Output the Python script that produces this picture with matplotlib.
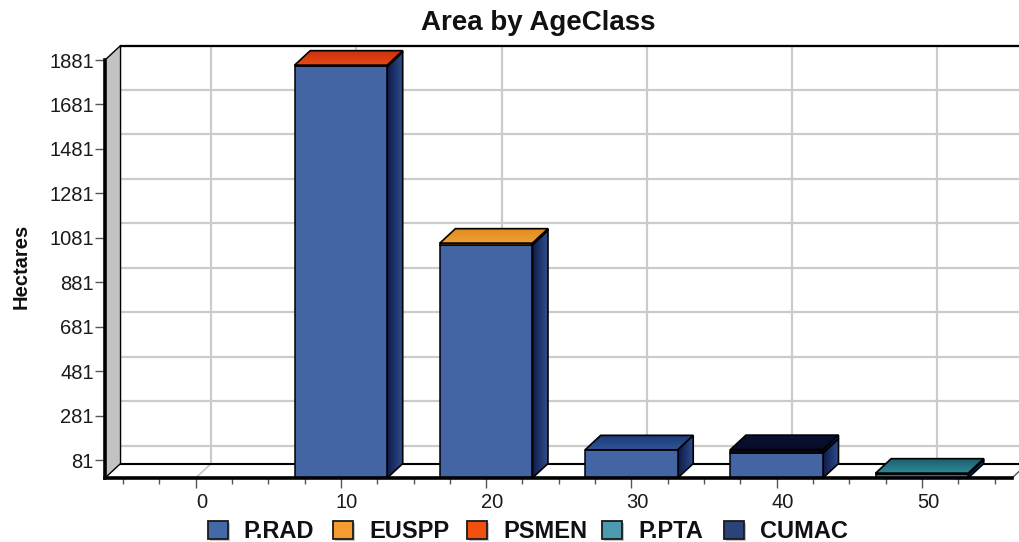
import matplotlib
matplotlib.use("Agg")
import matplotlib.pyplot as plt
import numpy as np
from matplotlib.colors import LinearSegmentedColormap
from matplotlib.patches import Polygon, Rectangle
from matplotlib.transforms import ScaledTranslation

plt.rcParams["font.family"] = ["Liberation Sans", "DejaVu Sans"]

# Stacked hectares per age class
age_classes = [0, 10, 20, 30, 40, 50]
series_names = ["P.RAD", "EUSPP", "PSMEN", "P.PTA", "CUMAC"]
p_rad = [0, 1852, 1050, 127, 112, 16]
euspp = [0, 0, 7, 0, 0, 0]
psmen = [0, 6, 0, 0, 0, 0]
p_pta = [0, 0, 0, 0, 0, 6]
cumac = [0, 0, 0, 0, 16, 0]
series_values = [p_rad, euspp, psmen, p_pta, cumac]
y_ticks = [81, 281, 481, 681, 881, 1081, 1281, 1481, 1681, 1881]

face_colors = ["#4465a3", "#f09a30", "#e8440f", "#2f8a96", "#070b28"]
side_dark = ["#0e1948", "#8a5510", "#7a1c05", "#123f4c", "#0a1030"]
side_light = ["#2f4f8f", "#d08020", "#c83a10", "#2a7a8c", "#24396c"]
top_back = ["#1d3a7a", "#e08a20", "#c8300c", "#1c5c6c", "#0a1030"]
top_front = ["#2f5597", "#f0a030", "#e84a14", "#2f8a96", "#080c2a"]
legend_fill = ["#4468a8", "#f49c30", "#f2500f", "#4d9bb0", "#2d4279"]

BAR_WIDTH = 6.37
DEPTH_X = 1.07
DEPTH_Y = 65.0

W, H = 1019, 542
fig = plt.figure(figsize=(W / 100, H / 100), dpi=100)
ax = fig.add_axes([105 / W, 1 - 478 / H, (1012 - 105) / W, (478 - 60) / H])
ax.set_xlim(-6.24, 56.2)
ax.set_ylim(0, 1881)
ax.patch.set_visible(False)

x_low, x_high = ax.get_xlim()
y_high = ax.get_ylim()[1]


def gradient_poly(points, c0, c1, vertical, z):
    """Fill a polygon with a two-colour linear gradient."""
    cmap = LinearSegmentedColormap.from_list("g", [c0, c1])
    grad = np.linspace(0, 1, 64)
    grad = grad.reshape(-1, 1) if vertical else grad.reshape(1, -1)
    xs, ys = zip(*points)
    im = ax.imshow(grad, cmap=cmap, origin="lower", aspect="auto", zorder=z,
                   extent=(min(xs), max(xs), min(ys), max(ys)), interpolation="bilinear")
    clip = Polygon(points, closed=True, transform=ax.transData)
    im.set_clip_path(clip)
    im.set_clip_box(fig.bbox)
    ax.add_patch(Polygon(points, closed=True, fill=False, edgecolor="black",
                         linewidth=1.2, zorder=z + 0.1, clip_on=False))


# Left wall and the back-wall frame
ax.add_patch(Polygon([(x_low, 0), (x_low + DEPTH_X, DEPTH_Y), (x_low + DEPTH_X, y_high + DEPTH_Y),
                      (x_low, y_high)], closed=True, facecolor="#c2c2c2", edgecolor="black",
                     linewidth=1.0, clip_on=False, zorder=1))

# Gridlines on the back wall and the floor
for t in y_ticks:
    ax.plot([x_low + DEPTH_X, x_high + 2], [t + DEPTH_Y] * 2, color="#cbcbcb", lw=1.6,
            clip_on=False, zorder=0.5)
for a in age_classes:
    ax.plot([a + DEPTH_X] * 2, [DEPTH_Y, y_high + DEPTH_Y], color="#cbcbcb", lw=1.6,
            clip_on=False, zorder=0.5)
    ax.plot([a, a + DEPTH_X], [0, DEPTH_Y], color="#cbcbcb", lw=1.4, clip_on=False, zorder=0.5)

ax.plot([x_low + DEPTH_X, x_high + 2], [y_high + DEPTH_Y] * 2, color="black", lw=1.6,
        clip_on=False, zorder=1.5)
ax.plot([x_low + DEPTH_X, x_high + DEPTH_X], [DEPTH_Y, DEPTH_Y], color="black", lw=1.5,
        clip_on=False, zorder=1.5)
ax.plot([x_high, x_high + DEPTH_X], [0, DEPTH_Y], color="#555555", lw=1.0, clip_on=False, zorder=1.5)

# Stacked 3D columns, drawn from the back of each stack up
for i, a in enumerate(age_classes):
    left, right = a - BAR_WIDTH / 2, a + BAR_WIDTH / 2
    base = 0.0
    last = None
    z = 3 + i
    for s in range(len(series_values)):
        v = series_values[s][i]
        if v <= 0:
            continue
        top = base + v
        gradient_poly([(right, base), (right + DEPTH_X, base + DEPTH_Y),
                       (right + DEPTH_X, top + DEPTH_Y), (right, top)],
                      side_dark[s], side_light[s], False, z)
        ax.add_patch(Rectangle((left, base), BAR_WIDTH, v, facecolor=face_colors[s],
                               edgecolor="black", linewidth=1.1, clip_on=False, zorder=z + 0.2))
        base = top
        last = s
    if last is not None:
        gradient_poly([(left, base), (right, base), (right + DEPTH_X, base + DEPTH_Y),
                       (left + DEPTH_X, base + DEPTH_Y)],
                      top_front[last], top_back[last], True, z + 0.3)

# Axes, ticks and labels
ax.set_xlim(x_low, x_high)
ax.set_ylim(0, y_high)
for side in ("top", "right"):
    ax.spines[side].set_visible(False)
ax.spines["bottom"].set_linewidth(2.6)
ax.spines["left"].set_linewidth(2.6)
ax.spines["bottom"].set_zorder(20)
ax.spines["left"].set_zorder(20)

ax.set_xticks(age_classes)
ax.set_xticks(np.arange(-5, 56, 2.5), minor=True)
ax.set_yticks(y_ticks)
ax.tick_params(axis="x", which="major", length=7, width=1.0, color="#555555",
               labelsize=14.5, pad=4, labelcolor="#1a1a1a")
ax.tick_params(axis="x", which="minor", length=4, width=1.0, color="#555555")
ax.tick_params(axis="y", which="major", length=7, width=1.0, color="#555555",
               labelsize=14.5, pad=1.0, labelcolor="#1a1a1a")
shift = ScaledTranslation(6 / 100, 0, fig.dpi_scale_trans)
for lab in ax.get_xticklabels():
    lab.set_transform(lab.get_transform() + shift)

fig.text(538 / W, 1 - 23 / H, "Area by AgeClass", ha="center", va="center",
         fontsize=20, fontweight="bold", color="#111111")
fig.text(21 / W, 1 - 266 / H, "Hectares", rotation=90, ha="center", va="center",
         fontsize=14.5, fontweight="bold", color="#111111")

# Legend row
swatch_left = [208, 333, 467, 602, 724]
label_left = [243, 369, 503, 638, 760]
for name, fill, sx, tx in zip(series_names, legend_fill, swatch_left, label_left):
    fig.add_artist(Rectangle(((sx + 1.5) / W, 1 - 541 / H), 20 / W, 18 / H, facecolor="#c4c4c4",
                             edgecolor="none", transform=fig.transFigure))
    fig.add_artist(Rectangle((sx / W, 1 - 539 / H), 20 / W, 18 / H, facecolor=fill,
                             edgecolor="#1a1a1a", linewidth=1.3, transform=fig.transFigure))
    fig.text(tx / W, 1 - 532 / H, name, ha="left", va="center", fontsize=17,
             fontweight="bold", color="#111111")

fig.savefig("out.png", dpi=100, facecolor="white")
